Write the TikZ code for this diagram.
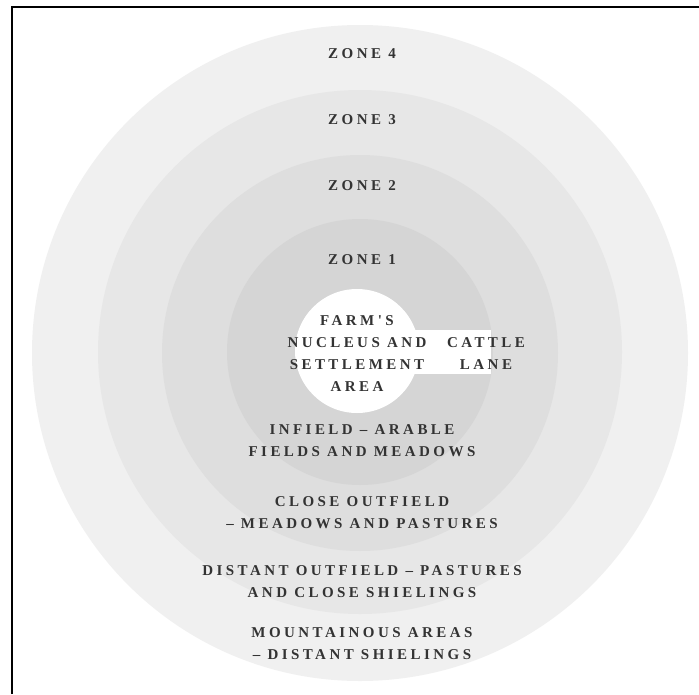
\documentclass[tikz,border=0pt]{standalone}
\usepackage{fontspec}
\newfontfamily\lblfont[LetterSpace=23]{Liberation Serif}
\definecolor{zfour}{HTML}{F0F0F0}
\definecolor{zthree}{HTML}{E7E7E7}
\definecolor{ztwo}{HTML}{DEDEDE}
\definecolor{zone}{HTML}{D5D5D5}
\definecolor{txt}{HTML}{333333}
\begin{document}
\begin{tikzpicture}[x=1pt,y=-1pt,
  lbl/.style={font=\lblfont\bfseries\fontsize{15}{22}\selectfont, text=txt, align=center, inner sep=0pt, anchor=center}]
\useasboundingbox (0,0) rectangle (699,694);
\fill[white] (0,0) rectangle (699,694);
% rings
\fill[zfour]  (360,353) circle (328);
\fill[zthree] (360,352) circle (262);
\fill[ztwo]   (360,353) circle (198);
\fill[zone]   (360,352) circle (133);
% nucleus and lane
\fill[white] (357,351) circle (62);
\fill[white] (380,330) rectangle (491,374);
% frame
\draw[line width=2pt, black] (12,694) -- (12,7) -- (699,7);
% labels
\node[lbl] (z4) at (362,54) {ZONE 4};
\node[lbl] (z3) at (362,120) {ZONE 3};
\node[lbl] (z2) at (362,186) {ZONE 2};
\node[lbl] (z1) at (362,260) {ZONE 1};
\node[lbl] (farm) at (357,354) {FARM'S\\NUCLEUS AND\\SETTLEMENT\\AREA};
\node[lbl] (lane) at (486,354) {CATTLE\\LANE};
\node[lbl] (inf) at (362,441) {INFIELD – ARABLE\\FIELDS AND MEADOWS};
\node[lbl] (clo) at (362,513) {CLOSE OUTFIELD\\– MEADOWS AND PASTURES};
\node[lbl] (dis) at (362,582) {DISTANT OUTFIELD – PASTURES\\AND CLOSE SHIELINGS};
\node[lbl] (mtn) at (362,644) {MOUNTAINOUS AREAS\\– DISTANT SHIELINGS};
\end{tikzpicture}
\end{document}
